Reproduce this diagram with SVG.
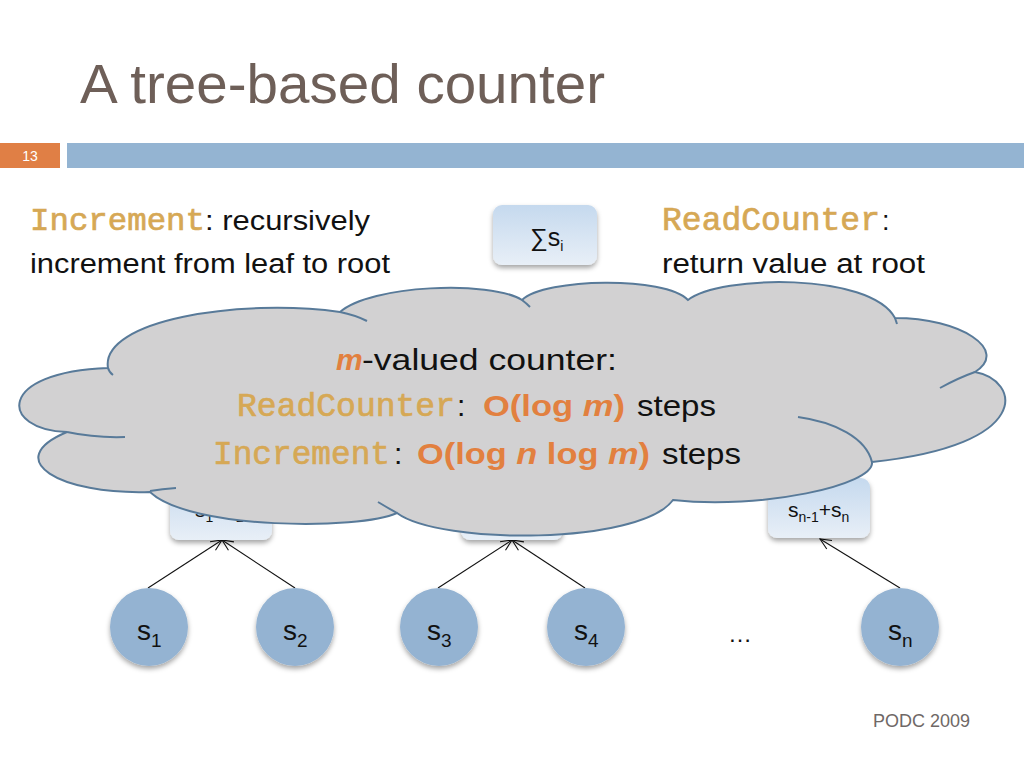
<svg xmlns="http://www.w3.org/2000/svg" width="1024" height="768" viewBox="0 0 1024 768">
<style>
.sans{font-family:"Liberation Sans",Arial,sans-serif}
.mono{font-family:"Liberation Mono","Courier New",monospace;font-weight:normal;fill:#d6a855;stroke:#d6a855;stroke-width:0.7}
.body{font-family:"Liberation Sans",Arial,sans-serif;font-size:27px;fill:#111}
.cl{font-family:"Liberation Sans",Arial,sans-serif;font-size:30px;fill:#111}
.or{font-family:"Liberation Sans",Arial,sans-serif;font-size:30px;font-weight:bold;fill:#e2803f}
.box{fill:url(#boxg);filter:url(#sh)}
.leaf{fill:#94b3d2;filter:url(#sh)}
.lt{font-family:"Liberation Sans",Arial,sans-serif;font-size:28px;fill:#111}
.bt{font-family:"Liberation Sans",Arial,sans-serif;font-size:21px;fill:#111}
.edge{stroke:#111;stroke-width:1.1;fill:none;marker-end:url(#arr)}
.cloud{fill:#d2d1d2;stroke:#587a99;stroke-width:2}
.inner{fill:none;stroke:#587a99;stroke-width:2}
</style>
<defs>
<linearGradient id="boxg" x1="0" y1="0" x2="0" y2="1">
<stop offset="0" stop-color="#c5d9ee"/>
<stop offset="1" stop-color="#e8eff7"/>
</linearGradient>
<filter id="sh" x="-20%" y="-20%" width="140%" height="150%">
<feDropShadow dx="0" dy="3" stdDeviation="2.5" flood-color="#000" flood-opacity="0.35"/>
</filter>
<marker id="arr" markerUnits="userSpaceOnUse" markerWidth="14" markerHeight="14" refX="12" refY="6" orient="auto">
<path d="M1,1 L12,6 L1,11" fill="none" stroke="#111" stroke-width="1.1"/>
</marker>
</defs>
<rect width="1024" height="768" fill="#fff"/>

<g id="header">
<text class="sans" x="80" y="103" font-size="56" fill="#6e5f58" textLength="525" lengthAdjust="spacingAndGlyphs">A tree-based counter</text>
<rect x="0" y="143" width="60" height="25" fill="#e07f45"/>
<text class="sans" x="30" y="161" font-size="14" fill="#fff" text-anchor="middle">13</text>
<rect x="67" y="143" width="957" height="25" fill="#94b4d2"/>
</g>

<g id="text-increment">
<text class="mono" x="30" y="230" font-size="32" textLength="175" lengthAdjust="spacingAndGlyphs">Increment</text>
<text class="body" x="205" y="230" textLength="165" lengthAdjust="spacingAndGlyphs">: recursively</text>
<text class="body" x="30" y="273" textLength="360" lengthAdjust="spacingAndGlyphs">increment from leaf to root</text>
</g>

<g id="text-readcounter">
<text class="mono" x="662" y="230" font-size="33" textLength="218" lengthAdjust="spacingAndGlyphs">ReadCounter</text>
<text class="body" x="882" y="230">:</text>
<text class="body" x="662" y="273" textLength="263" lengthAdjust="spacingAndGlyphs">return value at root</text>
</g>

<g id="connectors">
<line class="edge" x1="148" y1="588" x2="222" y2="540"/>
<line class="edge" x1="295" y1="588" x2="222" y2="540"/>
<line class="edge" x1="438" y1="588" x2="512" y2="540"/>
<line class="edge" x1="585" y1="588" x2="512" y2="540"/>
<line class="edge" x1="900" y1="588" x2="820" y2="539"/>
</g>

<g id="root">
<rect class="box" x="493" y="205" width="104" height="60" rx="9"/>
<text class="bt" x="530" y="246" style="font-size:25px">∑s<tspan style="font-size:14px" dy="5">i</tspan></text>
</g>

<g id="inner12">
<rect class="box" x="170" y="480" width="102" height="60" rx="9"/>
<text class="bt" x="195" y="517">s<tspan style="font-size:14px" dy="5">1</tspan><tspan dy="-5">+s</tspan><tspan style="font-size:14px" dy="5">2</tspan></text>
</g>

<g id="inner34">
<rect class="box" x="461" y="480" width="102" height="60" rx="9"/>
</g>

<g id="innerN">
<rect class="box" x="768" y="478" width="102" height="60" rx="9"/>
<text class="bt" x="788" y="517">s<tspan style="font-size:14px" dy="5">n-1</tspan><tspan dy="-5">+s</tspan><tspan style="font-size:14px" dy="5">n</tspan></text>
</g>

<g id="leaf1">
<circle class="leaf" cx="149" cy="627" r="39"/>
<text class="lt" x="137" y="640">s<tspan style="font-size:19px" dy="7">1</tspan></text>
</g>
<g id="leaf2">
<circle class="leaf" cx="295" cy="627" r="39"/>
<text class="lt" x="283" y="640">s<tspan style="font-size:19px" dy="7">2</tspan></text>
</g>
<g id="leaf3">
<circle class="leaf" cx="439" cy="627" r="39"/>
<text class="lt" x="427" y="640">s<tspan style="font-size:19px" dy="7">3</tspan></text>
</g>
<g id="leaf4">
<circle class="leaf" cx="586" cy="627" r="39"/>
<text class="lt" x="574" y="640">s<tspan style="font-size:19px" dy="7">4</tspan></text>
</g>
<g id="ellipsis">
<text class="sans" x="740" y="642" font-size="24" fill="#111" text-anchor="middle">…</text>
</g>
<g id="leafN">
<circle class="leaf" cx="900" cy="627" r="39"/>
<text class="lt" x="888" y="640">s<tspan style="font-size:19px" dy="7">n</tspan></text>
</g>

<g id="cloud">
<path class="cloud" d="M108,368 C100,320 240,298 340,312 C370,285 490,280 522,300 C545,278 665,276 688,300 C720,275 870,272 895,318 C960,318 1010,350 975,372 C1020,380 1035,445 872,462 C875,485 760,510 673,500 C640,545 440,545 397,513 C360,530 190,530 150,492 C60,495 0,460 67,432 C0,430 -5,372 108,368 Z"/>
<path class="inner" d="M67,432 Q95,438 125,437 M150,491 Q162,489 176,488 M108,368 Q109,372 113,375 M340,312 Q355,315 367,321 M522,300 Q526,303 530,307 M895,318 L897,324 M940,388 Q958,378 975,372 M798,417 C835,422 866,438 872,462 M378,502 Q388,508 397,513"/>
<text class="or" x="336" y="370" font-style="italic">m</text>
<text class="cl" x="362" y="370" textLength="255" lengthAdjust="spacingAndGlyphs">-valued counter:</text>
<text class="mono" x="237" y="416" font-size="33" textLength="218" lengthAdjust="spacingAndGlyphs">ReadCounter</text>
<text class="cl" x="457" y="416">:</text>
<text class="or" x="483" y="416" textLength="142" lengthAdjust="spacingAndGlyphs">O(log <tspan font-style="italic">m</tspan>)</text>
<text class="cl" x="637" y="416" textLength="79" lengthAdjust="spacingAndGlyphs">steps</text>
<text class="mono" x="213" y="464" font-size="33" textLength="177" lengthAdjust="spacingAndGlyphs">Increment</text>
<text class="cl" x="394" y="464">:</text>
<text class="or" x="417" y="464" textLength="233" lengthAdjust="spacingAndGlyphs">O(log <tspan font-style="italic">n</tspan> log <tspan font-style="italic">m</tspan>)</text>
<text class="cl" x="662" y="464" textLength="79" lengthAdjust="spacingAndGlyphs">steps</text>
</g>

<g id="footer">
<text class="sans" x="873" y="727" font-size="18" fill="#6f6866" textLength="97" lengthAdjust="spacingAndGlyphs">PODC 2009</text>
</g>
</svg>
